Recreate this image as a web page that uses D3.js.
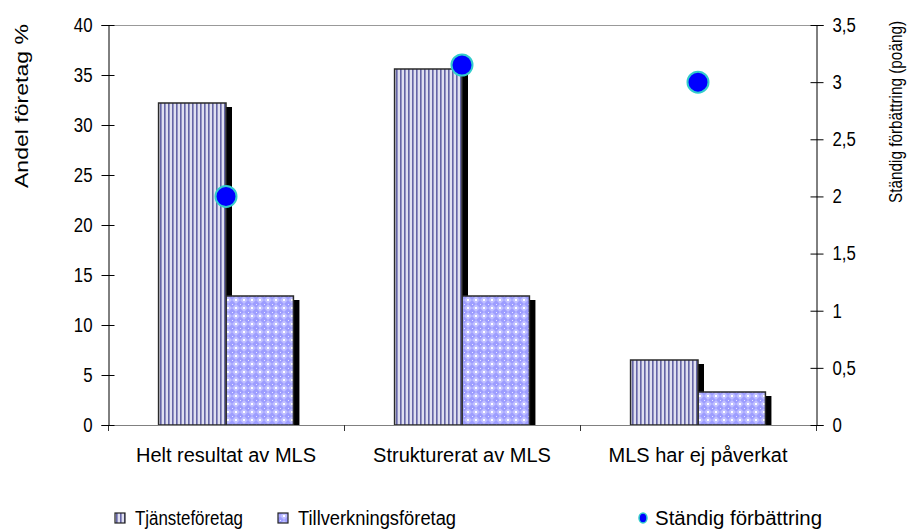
<!DOCTYPE html>
<html><head><meta charset="utf-8">
<script src="https://cdn.jsdelivr.net/npm/d3@7/dist/d3.min.js"></script>
<style>body{margin:0;background:#fff}svg{display:block}text{font-family:"Liberation Sans",Arial,sans-serif;fill:#000}</style>
</head><body>
<svg id="c" width="918" height="529"></svg>
<script>
const categories = ["Helt resultat av MLS", "Strukturerat av MLS", "MLS har ej påverkat"];
const series = ["Tjänsteföretag", "Tillverkningsföretag"];
const tjanste = [32.2, 35.6, 6.5];
const tillverkning = [12.9, 12.9, 3.3];
const standig = [2.0, 3.15, 3.0];
const leftTicks = [0, 5, 10, 15, 20, 25, 30, 35, 40];
const rightTicks = [0, 0.5, 1, 1.5, 2, 2.5, 3, 3.5];
const lineName = "Ständig förbättring";
const leftTitle = "Andel företag %";
const rightTitle = "Ständig förbättring (poäng)";

const svg = d3.select("#c");
const L = 108, R = 816, T = 25, B = 425;
const x0 = d3.scaleBand().domain(categories).range([L, R]).paddingInner(0).paddingOuter(0);
const x1 = d3.scaleBand().domain(series).range([0, x0.bandwidth()]).paddingInner(0).paddingOuter(0.75);
const yL = d3.scaleLinear().domain([0, 40]).range([B, T]);
const yR = d3.scaleLinear().domain([0, 3.5]).range([B, T]);

function condense(sel, f) {
  sel.each(function () {
    const w = this.getComputedTextLength();
    d3.select(this).attr("textLength", w * f).attr("lengthAdjust", "spacingAndGlyphs");
  });
}

const defs = svg.append("defs");
const p1 = defs.append("pattern").attr("id", "p1").attr("patternUnits", "userSpaceOnUse").attr("width", 4).attr("height", 4);
p1.append("rect").attr("width", 4).attr("height", 4).attr("fill", "#c2c2e2");
p1.append("rect").attr("x", 0).attr("width", 1.5).attr("height", 4).attr("fill", "#6565a5");
p1.append("rect").attr("x", 2.5).attr("width", 1).attr("height", 4).attr("fill", "#ffffff");
const p2 = defs.append("pattern").attr("id", "p2").attr("patternUnits", "userSpaceOnUse").attr("width", 8).attr("height", 8);
p2.append("rect").attr("width", 8).attr("height", 8).attr("fill", "#9d9dff");
p2.append("path").attr("d", "M4 0 L8 4 L4 8 L0 4 Z").attr("fill", "#c0c0ff");
p2.append("rect").attr("x", 3).attr("y", 3).attr("width", 2).attr("height", 2).attr("fill", "#ffffff");
p2.append("rect").attr("x", 0).attr("y", 0).attr("width", 1).attr("height", 1).attr("fill", "#e8e8ff");
defs.append("clipPath").attr("id", "plotclip").append("rect").attr("x", L).attr("y", 0).attr("width", R - L).attr("height", B);

const fills = ["url(#p1)", "url(#p2)"];
const data = [];
categories.forEach((c, i) => {
  data.push({c, s: series[0], v: tjanste[i], k: 0});
  data.push({c, s: series[1], v: tillverkning[i], k: 1});
});

svg.append("line").attr("x1", L).attr("x2", R).attr("y1", T + 0.5).attr("y2", T + 0.5).attr("stroke", "#999").attr("stroke-width", 1);

const g = svg.append("g").attr("clip-path", "url(#plotclip)");
g.selectAll("rect.sh").data(data).join("rect").attr("class", "sh")
  .attr("x", d => x0(d.c) + x1(d.s) + 6).attr("y", d => yL(d.v) + 4)
  .attr("width", x1.bandwidth()).attr("height", d => B - yL(d.v))
  .attr("fill", "#000");
svg.selectAll("rect.bar").data(data.slice().reverse()).join("rect").attr("class", "bar")
  .attr("x", d => x0(d.c) + x1(d.s)).attr("y", d => yL(d.v))
  .attr("width", x1.bandwidth()).attr("height", d => B - yL(d.v))
  .attr("fill", d => fills[d.k]).attr("stroke", "#2a2a2a").attr("stroke-width", 1.5);

svg.append("line").attr("x1", L).attr("x2", R).attr("y1", B + 0.5).attr("y2", B + 0.5).attr("stroke", "#808080").attr("stroke-width", 1.2);
const bx = [L, ...categories.slice(1).map(c => x0(c)), R];
svg.selectAll("line.bt").data(bx).join("line").attr("class", "bt")
  .attr("x1", d => Math.round(d) + 0.5).attr("x2", d => Math.round(d) + 0.5).attr("y1", B).attr("y2", B + 6)
  .attr("stroke", "#333");
svg.selectAll("text.cat").data(categories).join("text").attr("class", "cat")
  .attr("x", d => x0(d) + x0.bandwidth() / 2).attr("y", 462).attr("text-anchor", "middle")
  .attr("font-size", 20).text(d => d);

const la = svg.append("g").attr("transform", `translate(${L + 0.5},0)`)
  .call(d3.axisLeft(yL).tickValues(leftTicks).tickSize(7).tickPadding(9).tickFormat(d => d));
la.select(".domain").attr("stroke", "#000");
la.selectAll(".tick line").attr("stroke", "#000").attr("x2", -7).attr("x1", 6);
la.selectAll(".tick text").attr("font-size", 20).attr("font-family", "Liberation Sans, Arial, sans-serif").attr("fill", "#000").attr("x", -16);
condense(la.selectAll(".tick text"), 0.84);

const ra = svg.append("g").attr("transform", `translate(${R + 0.5},0)`)
  .call(d3.axisRight(yR).tickValues(rightTicks).tickSize(7).tickPadding(9).tickFormat(d => String(d).replace(".", ",")));
ra.select(".domain").attr("stroke", "#000");
ra.selectAll(".tick line").attr("stroke", "#000").attr("x1", -6).attr("x2", 7);
ra.selectAll(".tick text").attr("font-size", 20).attr("font-family", "Liberation Sans, Arial, sans-serif").attr("fill", "#000").attr("x", 16);
condense(ra.selectAll(".tick text"), 0.84);

svg.selectAll("circle.pt").data(categories).join("circle").attr("class", "pt")
  .attr("cx", d => x0(d) + x0.bandwidth() / 2).attr("cy", (d, i) => yR(standig[i]))
  .attr("r", 10.5).attr("fill", "#0000ff").attr("stroke", "#33cccc").attr("stroke-width", 2);

svg.append("text").attr("transform", "translate(28,106) rotate(-90)").attr("text-anchor", "middle")
  .attr("font-size", 19).attr("textLength", 164).attr("lengthAdjust", "spacingAndGlyphs").text(leftTitle);
svg.append("text").attr("transform", "translate(902,112) rotate(-90)").attr("text-anchor", "middle")
  .attr("font-size", 18).attr("textLength", 182).attr("lengthAdjust", "spacingAndGlyphs").text(rightTitle);

const lg = svg.append("g");
const legY = 518;
[{x: 115, k: 0, t: series[0], w: 108}, {x: 278, k: 1, t: series[1], w: 158}].forEach(o => {
  lg.append("rect").attr("x", o.x).attr("y", legY - 5).attr("width", 10).attr("height", 10)
    .attr("fill", fills[o.k]).attr("stroke", "#222").attr("stroke-width", 1.2);
  lg.append("text").attr("x", o.x + 20).attr("y", legY + 7).attr("font-size", 20)
    .attr("textLength", o.w).attr("lengthAdjust", "spacingAndGlyphs").text(o.t);
});
lg.append("ellipse").attr("cx", 643).attr("cy", legY).attr("rx", 4).attr("ry", 5)
  .attr("fill", "#0000ff").attr("stroke", "#33cccc").attr("stroke-width", 1.5);
lg.append("text").attr("x", 655).attr("y", legY + 7).attr("font-size", 20)
  .attr("textLength", 167).attr("lengthAdjust", "spacingAndGlyphs").text(lineName);
</script>
</body></html>
